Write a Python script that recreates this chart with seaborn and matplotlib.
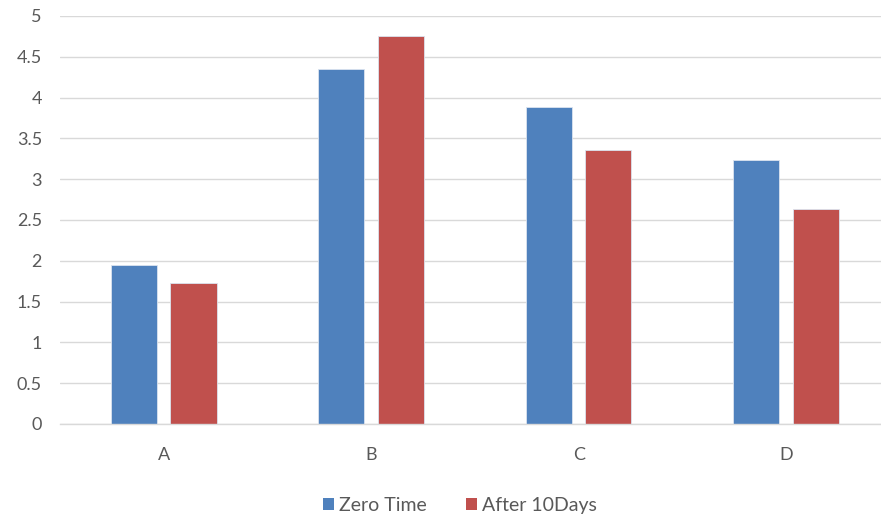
import matplotlib
matplotlib.use("Agg")
import matplotlib.pyplot as plt
import seaborn as sns
import pandas as pd
from matplotlib.patches import Patch

categories = ["A", "B", "C", "D"]
series_names = ["Zero Time", "After 10Days"]
zero_time = [1.95, 4.35, 3.89, 3.24]
after_10days = [1.73, 4.75, 3.36, 2.63]
y_ticks = [0, 0.5, 1, 1.5, 2, 2.5, 3, 3.5, 4, 4.5, 5]
y_tick_labels = ["0", "0.5", "1", "1.5", "2", "2.5", "3", "3.5", "4", "4.5", "5"]

colors = ["#4f81bd", "#c0504d"]

df = pd.DataFrame({
    "category": categories * 2,
    "series": [series_names[0]] * len(categories) + [series_names[1]] * len(categories),
    "value": zero_time + after_10days,
})

sns.set_theme(style="white")
plt.rcParams["font.family"] = ["Lato", "DejaVu Sans"]

fig = plt.figure(figsize=(8.81, 5.21), dpi=100)
ax = fig.add_axes([60 / 881, 97 / 521, 1 - 60 / 881, 1 - 97 / 521 - 16 / 521])

sns.barplot(data=df, x="category", y="value", hue="series", palette=colors,
            width=0.574, gap=0.227, ax=ax, legend=False, saturation=1,
            edgecolor="#dbe3ef", linewidth=0.6)

ax.set_xlim(-0.5, 3.457)
ax.set_ylim(0, 5)
ax.set_yticks(y_ticks)
ax.set_yticklabels(y_tick_labels)
ax.yaxis.grid(True, color="#d9d9d9", linewidth=1)
ax.set_axisbelow(True)
for side in ["top", "right", "left"]:
    ax.spines[side].set_visible(False)
ax.spines["bottom"].set_color("#d9d9d9")
ax.spines["bottom"].set_linewidth(1)
ax.set_xlabel("")
ax.set_ylabel("")
ax.tick_params(axis="y", length=0, pad=13, labelsize=13, labelcolor="#595959")
ax.tick_params(axis="x", length=0, pad=16.5, labelsize=13, labelcolor="#595959")

handles = [Patch(facecolor=c, edgecolor="none") for c in colors]
fig.legend(handles, series_names, loc="center", bbox_to_anchor=(0.522, 0.03),
           ncol=2, frameon=False, fontsize=14, labelcolor="#595959",
           handlelength=0.6, handleheight=0.6, handletextpad=0.25, columnspacing=2.0)

fig.savefig("out.png", dpi=100)
